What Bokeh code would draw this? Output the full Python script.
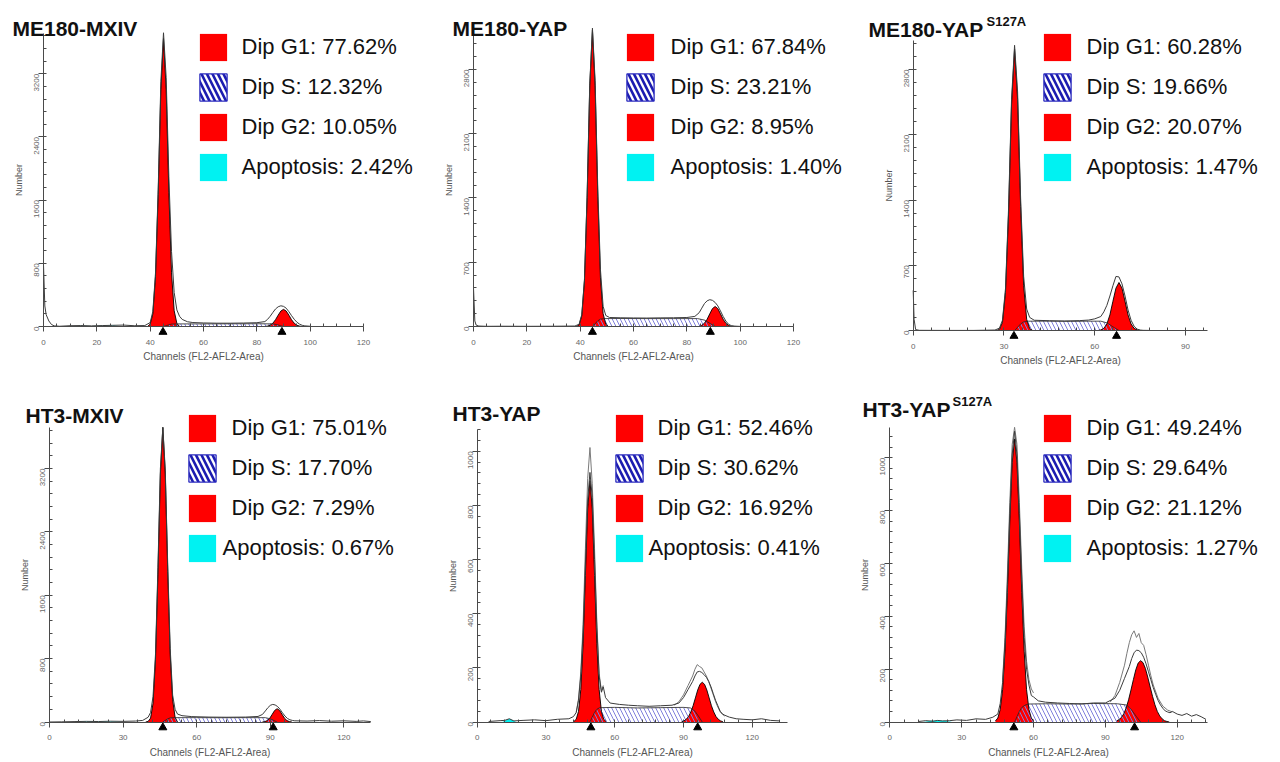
import math
import numpy as np
from bokeh.plotting import figure
from bokeh.layouts import row, column
from bokeh.models import FixedTicker, Legend, LegendItem, Label, Range1d
from bokeh.embed import file_html
from bokeh.resources import INLINE

NAN = float("nan")
FONT = "Liberation Sans"

# ---------------- text ----------------
TITLES = ["ME180-MXIV", "ME180-YAP", "ME180-YAP", "HT3-MXIV", "HT3-YAP", "HT3-YAP"]
SUPERSCRIPTS = ["", "", "S127A", "", "", "S127A"]
PHASES = ["Dip G1", "Dip S", "Dip G2", "Apoptosis"]
PCT = [
    [77.62, 12.32, 10.05, 2.42],
    [67.84, 23.21, 8.95, 1.40],
    [60.28, 19.66, 20.07, 1.47],
    [75.01, 17.70, 7.29, 0.67],
    [52.46, 30.62, 16.92, 0.41],
    [49.24, 29.64, 21.12, 1.27],
]
X_LABEL = "Channels (FL2-AFL2-Area)"
Y_LABEL = "Number"

X_TICKS_A = [0, 20, 40, 60, 80, 100, 120]
X_TICKS_B = [0, 30, 60, 90]
X_TICKS_C = [0, 30, 60, 90, 120]
Y_TICKS_A = [0, 800, 1600, 2400, 3200]
Y_TICKS_B = [0, 700, 1400, 2100, 2800]
Y_TICKS_C = [0, 200, 400, 600, 800, 1000]

# ---------------- ME180-MXIV ----------------
P1_G1_X = [39, 40, 41, 42, 43, 44, 45, 46, 47, 48, 49, 50, 51]
P1_G1_Y = [0, 30, 160, 630, 1670, 3000, 3650, 3000, 1700, 680, 200, 40, 0]
P1_G2_X = [83, 84, 85, 86, 87, 88, 89, 90, 91, 92, 93, 94, 95, 96, 97]
P1_G2_Y = [0, 5, 16, 42, 86, 144, 196, 217, 196, 144, 86, 42, 16, 5, 0]
P1_S_X = [45, 46, 47, 48, 50, 60, 70, 80, 86, 88, 89, 90]
P1_S_Y = [0, 10, 22, 30, 33, 33, 34, 35, 33, 20, 8, 0]
P1_A_X = [10, 14, 18, 22, 26, 30]
P1_A_Y = [0, 8, 6, 10, 12, 0]
P1_T_X = [0, 0.5, 1, 2, 3, 4, 6, 10, 14, 18, 22, 26, 30, 34, 38, 40, 41, 42, 43, 44, 45, 46, 47,
          48, 49, 50, 51, 52, 54, 56, 60, 65, 70, 75, 80, 83, 84, 85, 86, 87, 88, 89, 90, 91, 92,
          93, 94, 95, 96, 97, 98, 100]
P1_T_Y = [780, 260, 150, 70, 25, 8, 3, 10, 12, 8, 12, 15, 18, 10, 12, 50, 190, 680, 1730, 3100,
          3720, 3150, 1900, 950, 430, 210, 130, 90, 60, 50, 45, 42, 42, 44, 48, 62, 90, 130, 178,
          222, 250, 262, 255, 232, 188, 138, 92, 55, 30, 15, 8, 3]
P1_U_X = []
P1_U_Y = []
P1_MEANS = [44.8, 89.4]

# ---------------- ME180-YAP ----------------
P2_G1_X = [38.6, 39.6, 40.6, 41.6, 42.6, 43.6, 44.6, 45.6, 46.6, 47.6, 48.6, 49.6, 50.6]
P2_G1_Y = [0, 18, 116, 496, 1405, 2623, 3230, 2623, 1420, 530, 140, 25, 0]
P2_G2_X = [84.6, 85.6, 86.6, 87.6, 88.6, 89.6, 90.6, 91.6, 92.6, 93.6, 94.6, 95.6, 96.6]
P2_G2_Y = [0, 13, 36, 79, 138, 195, 218, 195, 138, 79, 36, 13, 0]
P2_S_X = [44.6, 45.6, 46.6, 47.6, 49, 55, 65, 75, 84, 86.6, 88.6, 90.6]
P2_S_Y = [0, 30, 62, 80, 86, 87, 86, 86, 86, 70, 35, 0]
P2_A_X = [2, 10, 20, 30, 36]
P2_A_Y = [0, 2, 2, 2, 0]
P2_T_X = [0, 0.5, 1, 2, 5, 10, 20, 30, 38, 39.6, 40.6, 41.6, 42.6, 43.6, 44.6, 45.6, 46.6, 47.6,
          48.6, 49.6, 51, 55, 60, 65, 70, 75, 80, 83, 84.6, 85.6, 86.6, 87.6, 88.6, 89.6, 90.6,
          91.6, 92.6, 93.6, 94.6, 95.6, 96.6, 98, 100]
P2_T_Y = [420, 60, 15, 5, 2, 3, 2, 3, 5, 25, 130, 510, 1430, 2650, 3250, 2680, 1500, 620, 220,
          120, 98, 95, 93, 92, 94, 95, 98, 110, 150, 200, 250, 280, 292, 285, 262, 225, 170, 110,
          60, 25, 10, 4, 1]
P2_U_X = []
P2_U_Y = []
P2_MEANS = [44.6, 88.8]

# ---------------- ME180-YAP S127A ----------------
P3_G1_X = [27.5, 28.5, 29.5, 30.5, 31.5, 32.5, 33.5, 34.5, 35.5, 36.5, 37.5, 38.5, 39.5]
P3_G1_Y = [0, 12, 87, 410, 1240, 2420, 3020, 2480, 1330, 480, 120, 20, 0]
P3_G2_X = [61, 62, 63, 64, 65, 66, 67, 68, 69, 70, 71, 72, 73, 74, 75]
P3_G2_Y = [0, 6, 23, 70, 167, 313, 454, 515, 454, 313, 167, 70, 23, 6, 0]
P3_S_X = [33.5, 34.5, 35.5, 36.5, 38, 45, 52, 58, 62, 64, 66, 68]
P3_S_Y = [0, 35, 70, 92, 100, 100, 98, 100, 100, 82, 40, 0]
P3_A_X = [2, 10, 20, 26]
P3_A_Y = [0, 1, 1, 0]
P3_T_X = [0, 0.3, 0.8, 2, 10, 20, 27, 28.5, 29.5, 30.5, 31.5, 32.5, 33.5, 34.5, 35.5, 36.5, 37.5,
          38.5, 40, 45, 50, 55, 58, 60, 62, 63, 64, 65, 66, 67, 68, 69, 70, 71, 72, 73, 74, 75,
          76, 78]
P3_T_Y = [430, 120, 10, 2, 1, 1, 5, 25, 110, 450, 1300, 2480, 3060, 2560, 1420, 580, 230, 140,
          110, 105, 102, 106, 112, 125, 150, 200, 270, 370, 480, 580, 575, 500, 370, 220, 110, 45,
          15, 5, 2, 1]
P3_U_X = []
P3_U_Y = []
P3_MEANS = [33.3, 67.2]

# ---------------- HT3-MXIV ----------------
P4_G1_X = [39.2, 40.2, 41.2, 42.2, 43.2, 44.2, 45.2, 46.2, 47.2, 48.2, 49.2, 50.2, 51.2, 52.2]
P4_G1_Y = [0, 7, 49, 234, 785, 1860, 3130, 3720, 3130, 1900, 850, 280, 60, 0]
P4_G2_X = [86.8, 87.8, 88.8, 89.8, 90.8, 91.8, 92.8, 93.8, 94.8, 95.8, 96.8, 97.8, 98.8]
P4_G2_Y = [0, 5, 18, 48, 97, 146, 168, 146, 97, 48, 18, 5, 0]
P4_S_X = [46.2, 47.2, 48.2, 49.2, 51, 60, 70, 80, 88, 90, 91.5, 92.8]
P4_S_Y = [0, 20, 40, 52, 55, 55, 54, 55, 55, 40, 18, 0]
P4_A_X = [10, 15, 20, 25, 30]
P4_A_Y = [0, 5, 5, 6, 0]
P4_T_X = [0, 5, 10, 15, 20, 25, 30, 35, 38, 40.2, 41.2, 42.2, 43.2, 44.2, 45.2, 46.2, 47.2, 48.2,
          49.2, 50.2, 51.2, 52.2, 54, 58, 65, 72, 80, 85, 86.8, 88, 89, 90, 91, 92, 93, 94, 95,
          96, 97, 98, 99, 100, 105, 110, 115, 120, 125, 128, 131]
P4_T_Y = [0, 2, 5, 8, 6, 10, 8, 12, 20, 60, 120, 320, 850, 1950, 3200, 3720, 3180, 1980, 930, 340,
          160, 100, 80, 68, 62, 60, 62, 70, 95, 140, 180, 210, 222, 215, 195, 160, 115, 75, 45,
          28, 20, 15, 12, 18, 10, 15, 8, 14, 5]
P4_U_X = []
P4_U_Y = []
P4_MEANS = [46.2, 91.2]

# ---------------- HT3-YAP ----------------
P5_G1_X = [42.2, 43.2, 44.2, 45.2, 46.2, 47.2, 48.2, 49.2, 50.2, 51.2, 52.2, 53.2, 54.2, 55.2, 56.2]
P5_G1_Y = [2, 10, 39, 120, 289, 541, 787, 892, 787, 541, 289, 120, 39, 10, 2]
P5_G2_X = [89.2, 90.2, 91.2, 92.2, 93.2, 94.2, 95.2, 96.2, 97.2, 98.2, 99.2, 100.2, 101.2, 102.2,
           103.2, 104.2, 105.2, 106.2, 107.2]
P5_G2_Y = [1, 4, 10, 20, 37, 60, 89, 118, 139, 147, 139, 118, 89, 60, 37, 20, 10, 4, 1]
P5_S_X = [49.2, 50.2, 51.2, 52.2, 53.5, 60, 70, 80, 90, 93, 95, 96.5, 98.2]
P5_S_Y = [0, 18, 35, 47, 53, 54, 52, 53, 54, 52, 40, 22, 0]
P5_A_X = [11, 13, 14, 15, 17]
P5_A_Y = [0, 8, 12, 8, 0]
P5_T_X = [5, 10, 12, 14, 16, 20, 25, 30, 35, 40, 42, 43.2, 44.2, 45.2, 46.2, 47.2, 48.2, 49.2,
          50.2, 51.2, 52.2, 53.2, 54.2, 55, 56, 58, 62, 66, 70, 75, 80, 85, 88, 90, 92, 94, 95,
          96, 97, 98, 99, 100, 101, 102, 103, 104, 105, 106, 107, 108, 110, 113, 116, 120, 124,
          128, 132]
P5_T_Y = [2, 5, 6, 12, 4, 6, 8, 5, 10, 12, 20, 35, 80, 170, 330, 580, 820, 922, 830, 600, 350, 170,
          110, 130, 90, 70, 65, 62, 60, 58, 60, 62, 70, 90, 120, 150, 170, 185, 187, 183, 175, 165,
          150, 130, 105, 80, 60, 40, 30, 25, 18, 12, 10, 8, 12, 6, 4]
P5_U_X = [43.2, 44.2, 45.2, 46.2, 47.2, 48.2, 49.2, 50.2, 51.2, 52.2, 53.2, 54.2, 55, NAN, 86, 88,
          90, 92, 94, 95, 96, 97, 98, 99, 100, 101, 102, 103, 104, 105, 106, 107, 108]
P5_U_Y = [35, 85, 185, 360, 640, 900, 1014, 880, 640, 370, 180, 115, 135, NAN, 62, 75, 100, 135,
          170, 195, 212, 205, 200, 185, 170, 150, 125, 100, 75, 55, 38, 28, 22]
P5_MEANS = [49.6, 96.2]

# ---------------- HT3-YAP S127A ----------------
P6_G1_X = [44.1, 45.1, 46.1, 47.1, 48.1, 49.1, 50.1, 51.1, 52.1, 53.1, 54.1, 55.1, 56.1, 57.1,
           58.1, 59.1, 60.1]
P6_G1_Y = [4, 15, 47, 122, 268, 490, 757, 982, 1071, 982, 757, 490, 268, 122, 47, 15, 4]
P6_G2_X = [94.7, 95.7, 96.7, 97.7, 98.7, 99.7, 100.7, 101.7, 102.7, 103.7, 104.7, 105.7, 106.7,
           107.7, 108.7, 109.7, 110.7, 111.7, 112.7, 113.7, 114.7, 115.7, 116.7]
P6_G2_Y = [4, 9, 17, 31, 53, 84, 121, 160, 197, 223, 232, 225, 203, 170, 133, 97, 65, 40, 23, 12,
           5, 2, 0]
P6_S_X = [52.1, 53.1, 54.1, 55.1, 56.5, 58, 65, 75, 85, 95, 99, 101, 103, 104.7]
P6_S_Y = [0, 20, 40, 55, 64, 68, 69, 68, 70, 69, 64, 45, 20, 0]
P6_A_X = [14, 17, 20, 23, 26]
P6_A_Y = [0, 5, 6, 5, 0]
P6_T_X = [12, 15, 18, 20, 22, 25, 28, 32, 36, 40, 43, 45.1, 46.1, 47.1, 48.1, 49.1, 50.1, 51.1,
          52.1, 53.1, 54.1, 55.1, 56.1, 57.1, 58.1, 59.1, 60, 62, 65, 70, 75, 80, 85, 90, 94, 96,
          98, 100, 101, 102, 103, 104, 105, 106, 107, 108, 109, 110, 111, 112, 113, 114, 115, 116,
          117, 118, 120, 122, 124, 126, 128, 130, 132]
P6_T_Y = [2, 5, 3, 6, 4, 5, 8, 6, 12, 10, 18, 30, 70, 150, 300, 520, 790, 1010, 1100, 1010, 790,
          540, 320, 200, 140, 100, 95, 80, 75, 72, 70, 68, 72, 72, 90, 120, 165, 210, 240, 262, 272,
          270, 262, 245, 220, 190, 160, 130, 105, 82, 65, 52, 42, 38, 35, 40, 30, 25, 32, 22, 28,
          20, 10]
P6_U_X = [47.1, 48.1, 49.1, 50.1, 51.1, 52.1, 53.1, 54.1, 55.1, 56.1, 57.1, 58.1, 59.1, 60, NAN,
          92, 94, 96, 98, 99, 100, 101, 102, 103, 104, 105, 106, 107, 108, 109, 110, 112, 114, 116,
          118]
P6_U_Y = [160, 320, 560, 830, 1050, 1115, 1050, 830, 580, 360, 230, 160, 125, 110, NAN, 75, 100,
          150, 215, 260, 300, 330, 345, 320, 335, 300, 290, 255, 215, 175, 140, 90, 60, 45, 38]
P6_MEANS = [51.8, 102.2]

DATA = [
    (P1_T_X, P1_T_Y, P1_U_X, P1_U_Y, P1_G1_X, P1_G1_Y, P1_G2_X, P1_G2_Y, P1_S_X, P1_S_Y, P1_A_X, P1_A_Y, P1_MEANS),
    (P2_T_X, P2_T_Y, P2_U_X, P2_U_Y, P2_G1_X, P2_G1_Y, P2_G2_X, P2_G2_Y, P2_S_X, P2_S_Y, P2_A_X, P2_A_Y, P2_MEANS),
    (P3_T_X, P3_T_Y, P3_U_X, P3_U_Y, P3_G1_X, P3_G1_Y, P3_G2_X, P3_G2_Y, P3_S_X, P3_S_Y, P3_A_X, P3_A_Y, P3_MEANS),
    (P4_T_X, P4_T_Y, P4_U_X, P4_U_Y, P4_G1_X, P4_G1_Y, P4_G2_X, P4_G2_Y, P4_S_X, P4_S_Y, P4_A_X, P4_A_Y, P4_MEANS),
    (P5_T_X, P5_T_Y, P5_U_X, P5_U_Y, P5_G1_X, P5_G1_Y, P5_G2_X, P5_G2_Y, P5_S_X, P5_S_Y, P5_A_X, P5_A_Y, P5_MEANS),
    (P6_T_X, P6_T_Y, P6_U_X, P6_U_Y, P6_G1_X, P6_G1_Y, P6_G2_X, P6_G2_Y, P6_S_X, P6_S_Y, P6_A_X, P6_A_Y, P6_MEANS),
]

# ---------------- layout (page pixels) ----------------
LAYOUT = [
    dict(fig=(0, 0, 438, 382), ox=43, oy=326, kx=2.667, ky=0.07896, xend=120, ytop=3711,
         xt=X_TICKS_A, xm=5, yt=Y_TICKS_A, ym=160, title=(12, 28), sup=None,
         box=(199, 47), text=242, apop=242),
    dict(fig=(438, 0, 856, 382), ox=473, oy=326, kx=2.667, ky=0.09179, xend=120, ytop=3192,
         xt=X_TICKS_A, xm=5, yt=Y_TICKS_B, ym=140, title=(452, 28), sup=None,
         box=(626, 47), text=671, apop=671),
    dict(fig=(856, 0, 1280, 382), ox=912.7, oy=330, kx=3.026, ky=0.0932, xend=97.2, ytop=3112,
         xt=X_TICKS_B, xm=6, yt=Y_TICKS_B, ym=140, title=(868, 29), sup=(986, 21),
         box=(1043, 47), text=1087, apop=1087),
    dict(fig=(0, 382, 438, 760), ox=49, oy=721.5, kx=2.453, ky=0.0792, xend=130.9, ytop=3723,
         xt=X_TICKS_C, xm=6, yt=Y_TICKS_A, ym=160, title=(25, 415), sup=None,
         box=(188, 428), text=232, apop=223),
    dict(fig=(438, 382, 856, 760), ox=476.7, oy=721.5, kx=2.292, ky=0.2707, xend=135.3, ytop=1082,
         xt=X_TICKS_C, xm=6, yt=Y_TICKS_C, ym=40, title=(452, 413), sup=None,
         box=(615, 428), text=658, apop=649),
    dict(fig=(856, 382, 1280, 760), ox=889.3, oy=721.5, kx=2.395, ky=0.2643, xend=132.5, ytop=1115,
         xt=X_TICKS_C, xm=6, yt=Y_TICKS_C, ym=40, title=(862, 409), sup=(952, 401),
         box=(1043, 428), text=1087, apop=1087),
]

RED = "#ff0000"
CYAN = "#00f2f2"
AX = "#4a4a4a"
GW = 34  # legend glyph size (box drawn at 80%)


def build(i):
    tx, ty, ux, uy, g1x, g1y, g2x, g2y, sx, sy, ax_, ay_, means = DATA[i]
    L = LAYOUT[i]
    fx0, fy0, fx1, fy1 = L["fig"]
    ox, oy, kx, ky = L["ox"], L["oy"], L["kx"], L["ky"]
    w, h = fx1 - fx0, fy1 - fy0
    p = figure(width=w, height=h,
               x_range=Range1d((fx0 - ox) / kx, (fx1 - ox) / kx),
               y_range=Range1d((oy - fy1) / ky, (oy - fy0) / ky),
               output_backend="svg", toolbar_location=None, min_border=0, title=None,
               outline_line_color=None, background_fill_color="white")
    p.grid.visible = False

    xa, ya = p.xaxis[0], p.yaxis[0]
    for a in (xa, ya):
        a.fixed_location = 0
        a.axis_line_color = AX
        a.axis_line_width = 1
        a.major_tick_line_color = AX
        a.minor_tick_line_color = AX
        a.major_tick_in = 0
        a.major_tick_out = 5
        a.minor_tick_in = 3
        a.minor_tick_out = 0
        a.major_label_text_font = FONT
        a.major_label_text_font_size = "8px"
        a.major_label_text_color = "#666666"
        a.axis_label_text_font = FONT
        a.axis_label_text_font_style = "normal"
        a.axis_label_text_color = "#555555"
    xa.bounds = (0, L["xend"])
    ya.bounds = (0, L["ytop"])
    xa.ticker = FixedTicker(ticks=L["xt"], minor_ticks=list(np.arange(0, L["xend"] + 0.01, L["xm"])))
    ya.ticker = FixedTicker(ticks=L["yt"], minor_ticks=list(np.arange(0, L["ytop"] + 0.01, L["ym"])))
    xa.axis_label = X_LABEL
    xa.axis_label_text_font_size = "10px"
    xa.major_label_standoff = 8
    xa.axis_label_standoff = 3
    ya.axis_label = Y_LABEL
    ya.axis_label_text_font_size = "9px"
    ya.major_label_orientation = math.pi / 2
    ya.major_label_standoff = 2
    ya.axis_label_standoff = 5

    arr = lambda v: np.asarray(v, dtype=float)

    apo = p.varea(x=arr(ax_), y1=0, y2=arr(ay_), fill_color=CYAN)
    g1 = p.varea(x=arr(g1x), y1=0, y2=arr(g1y), fill_color=RED)
    g2 = p.varea(x=arr(g2x), y1=0, y2=arr(g2y), fill_color=RED)
    p.varea(x=arr(sx), y1=0, y2=arr(sy), fill_alpha=0, hatch_pattern="\\",
            hatch_color="#7f7fdc", hatch_weight=1.0, hatch_scale=8)
    p.line(arr(g1x), arr(g1y), line_color="black", line_width=0.9)
    p.line(arr(g2x), arr(g2y), line_color="black", line_width=0.9)
    p.line(arr(sx), arr(sy), line_color="#222222", line_width=0.8)
    if len(ux):
        p.line(arr(ux), arr(uy), line_color="#7a7a7a", line_width=1)
    p.line(arr(tx), arr(ty), line_color="#3c3c3c", line_width=1)
    p.scatter(x=arr(means), y=[-5.5 / ky] * len(means), marker="triangle", size=8,
              fill_color="black", line_color="black")

    # legend-only swatch for the S phase (box with border)
    s_leg = p.quad(left=[min(sx)], right=[max(sx)], bottom=[0], top=[max(sy)],
                   fill_color="white", hatch_pattern="\\", hatch_color="#1c1cb0",
                   hatch_weight=2.6, hatch_scale=11, line_color="#2c2cc0", line_width=1.3,
                   visible=False)

    # titles
    tx0, tyb = L["title"]
    p.add_layout(Label(x=tx0 - fx0, y=fy1 - tyb, x_units="screen", y_units="screen",
                       text=TITLES[i], text_font=FONT, text_font_size="21px",
                       text_font_style="bold", text_color="#111111",
                       text_baseline="alphabetic", text_align="left"))
    if L["sup"]:
        sx0, syb = L["sup"]
        p.add_layout(Label(x=sx0 - fx0, y=fy1 - syb, x_units="screen", y_units="screen",
                           text=SUPERSCRIPTS[i], text_font=FONT, text_font_size="13px",
                           text_font_style="bold", text_color="#111111",
                           text_baseline="alphabetic", text_align="left"))

    labels = ["%s: %.2f%%" % (PHASES[k], PCT[i][k]) for k in range(4)]
    bx, cy = L["box"]
    leg_left = bx - 0.1 * GW
    common = dict(glyph_width=GW, glyph_height=GW, label_height=GW, spacing=6, padding=0,
                  margin=0, border_line_color=None, background_fill_alpha=0,
                  inactive_fill_alpha=0, label_text_font=FONT, label_text_font_size="22px",
                  label_text_color="#111111")
    main_h = 3 * GW + 2 * 6
    top_main = cy - GW / 2
    leg1 = Legend(items=[LegendItem(label=labels[0], renderers=[g1]),
                         LegendItem(label=labels[1], renderers=[s_leg]),
                         LegendItem(label=labels[2], renderers=[g2])],
                  location=(leg_left - fx0, fy1 - (top_main + main_h)),
                  label_standoff=int(round(L["text"] - leg_left - GW)), **common)
    top_apo = cy + 3 * 40 - GW / 2
    leg2 = Legend(items=[LegendItem(label=labels[3], renderers=[apo])],
                  location=(leg_left - fx0, fy1 - (top_apo + GW)),
                  label_standoff=int(round(L["apop"] - leg_left - GW)), **common)
    p.add_layout(leg1)
    p.add_layout(leg2)
    return p


figs = [build(i) for i in range(6)]
layout = column(row(figs[0], figs[1], figs[2]), row(figs[3], figs[4], figs[5]))
open("out.html", "w").write(file_html(layout, INLINE))
